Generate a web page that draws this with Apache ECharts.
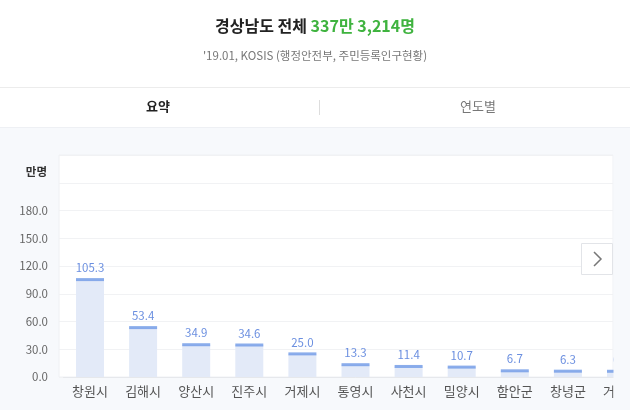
<!DOCTYPE html>
<html><head><meta charset="utf-8">
<script src="https://cdn.jsdelivr.net/npm/echarts@6/dist/echarts.min.js"></script>
<style>html,body{margin:0;padding:0;background:#f7f9fc;width:630px;height:410px;overflow:hidden;}#c{width:660px;height:410px;}</style>
</head><body><div id="c"></div>
<script>
const categories = ['창원시','김해시','양산시','진주시','거제시','통영시','사천시','밀양시','함안군','창녕군','거창군'];
const values = [105.3, 53.4, 34.9, 34.6, 25.0, 13.3, 11.4, 10.7, 6.7, 6.3, 6.2];
const yMin = 0, yMax = 240, yStep = 30, yLabelMax = 180;
const titleMain = '경상남도 전체';
const titleTotal = '337만 3,214명';
const subtitle = "'19.01, KOSIS (행정안전부, 주민등록인구현황)";
const tabs = ['요약', '연도별'];
const unit = '만명';

const FONT = '"Noto Sans CJK KR", "Noto Sans", sans-serif';
const chart = echarts.init(document.getElementById('c'), null, {renderer: 'canvas'});
chart.setOption({
  backgroundColor: '#f7f9fc',
  animation: false,
  textStyle: {fontFamily: FONT},
  title: [{
    text: '{a|' + titleMain + ' }{b|' + titleTotal + '}',
    left: 315, textAlign: 'center', top: 18, padding: 0,
    textStyle: {rich: {
      a: {fontFamily: FONT, fontSize: 16, fontWeight: 'bold', color: '#222'},
      b: {fontFamily: FONT, fontSize: 16, fontWeight: 'bold', color: '#3fb33f'}
    }}
  }, {
    text: subtitle, left: 315, textAlign: 'center', top: 50, padding: 0,
    textStyle: {fontFamily: FONT, fontSize: 11.5, fontWeight: 'normal', color: '#777'}
  }],
  graphic: [
    {type: 'rect', shape: {x: 0, y: 0, width: 660, height: 128}, style: {fill: '#fff'}, z: 0, silent: true},
    {type: 'line', shape: {x1: 0, y1: 87.5, x2: 660, y2: 87.5}, style: {stroke: '#ececec', lineWidth: 1}, z: 1},
    {type: 'line', shape: {x1: 0, y1: 127.5, x2: 660, y2: 127.5}, style: {stroke: '#eef0f4', lineWidth: 1}, z: 1},
    {type: 'line', shape: {x1: 319.5, y1: 100, x2: 319.5, y2: 115}, style: {stroke: '#dddddd', lineWidth: 1}, z: 1},
    {type: 'text', x: 158, y: 106, style: {text: tabs[0], font: 'bold 13px ' + FONT, fill: '#222', textAlign: 'center', textVerticalAlign: 'middle'}, z: 1},
    {type: 'text', x: 478, y: 106, style: {text: tabs[1], font: '13px ' + FONT, fill: '#777', textAlign: 'center', textVerticalAlign: 'middle'}, z: 1},
    {type: 'rect', shape: {x: 613.5, y: 129, width: 47, height: 281}, style: {fill: '#f7f9fc'}, z: 100, silent: true},
    {type: 'rect', shape: {x: 581.5, y: 243.5, width: 31, height: 31}, style: {fill: '#fff', stroke: '#e2e4e8', lineWidth: 1}, z: 101},
    {type: 'polyline', shape: {points: [[594, 252], [601, 259], [594, 266]]}, style: {stroke: '#777', lineWidth: 1.5, fill: null}, z: 102}
  ],
  grid: [
    {left: 59, top: 155, width: 554, height: 222, show: true, backgroundColor: '#fff', borderColor: '#eef0f4', borderWidth: 1},
    {left: 63.45, top: 155, width: 584.1, height: 222}
  ],
  xAxis: [
    {gridIndex: 0, type: 'value', show: false},
    {gridIndex: 1, type: 'category', data: categories,
     axisLine: {show: true, lineStyle: {color: '#e6e8ec'}}, axisTick: {show: false},
     axisLabel: {fontFamily: FONT, fontSize: 13, color: '#555', margin: 8, interval: 0}}
  ],
  yAxis: [
    {gridIndex: 0, type: 'value', min: yMin, max: yMax, interval: yStep,
     name: unit, nameLocation: 'end', nameGap: -22,
     nameTextStyle: {fontFamily: FONT, fontSize: 11.5, fontWeight: 'bold', color: '#333', align: 'right', padding: [0, 12, 0, 0]},
     axisLine: {show: false}, axisTick: {show: false},
     splitLine: {lineStyle: {color: '#f1f2f4'}},
     axisLabel: {fontFamily: FONT, fontSize: 11.5, color: '#666', margin: 11,
       formatter: v => v <= yLabelMax ? v.toFixed(1) : ''}},
    {gridIndex: 1, type: 'value', min: yMin, max: yMax, interval: yStep, show: false, splitLine: {show: false}}
  ],
  series: [
    {type: 'bar', xAxisIndex: 1, yAxisIndex: 1, data: values, barWidth: 28,
     itemStyle: {color: '#e3eaf8'},
     label: {show: true, position: 'top', distance: 6, fontFamily: FONT, fontSize: 11.5, color: '#6b8fe0',
       formatter: p => p.value.toFixed(1)}},
    {type: 'scatter', xAxisIndex: 1, yAxisIndex: 1, data: values, symbol: 'rect', symbolSize: [28, 3],
     itemStyle: {color: '#6e99e6'}, z: 3}
  ]
});
</script></body></html>
